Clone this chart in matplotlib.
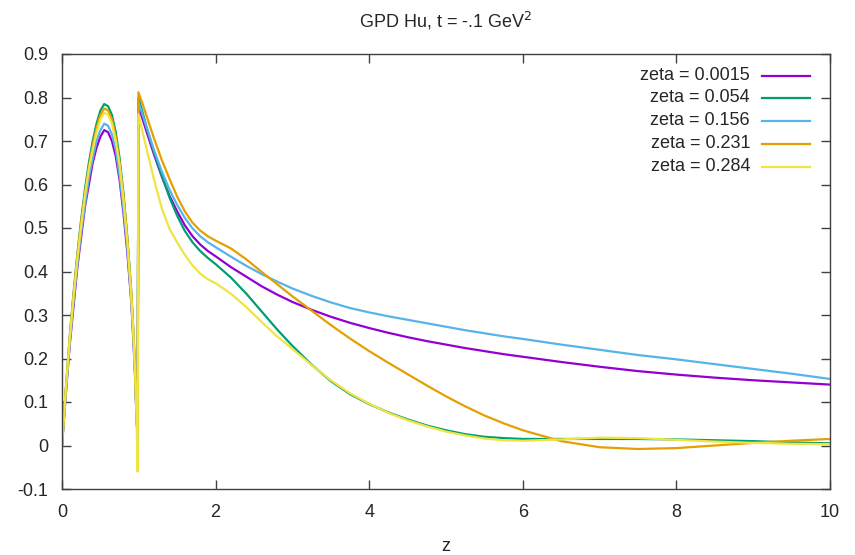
import matplotlib
matplotlib.use("Agg")
import matplotlib.pyplot as plt

plt.rcParams['font.family'] = ['Liberation Sans', 'DejaVu Sans']

z = [0, 0.05, 0.1, 0.15, 0.2, 0.25, 0.3, 0.35, 0.4, 0.45, 0.5, 0.55, 0.6, 0.65, 0.7,
     0.75, 0.8, 0.85, 0.9, 0.93, 0.95, 0.97, 0.985, 0.995,
     1.05, 1.1, 1.2, 1.3, 1.4, 1.5, 1.6, 1.7, 1.8, 1.9, 2.0,
     2.2, 2.4, 2.6, 2.8, 3.0, 3.25, 3.5, 3.75, 4.0, 4.25, 4.5, 4.75, 5.0,
     5.25, 5.5, 5.75, 6.0, 6.5, 7.0, 7.5, 8.0, 8.5, 9.0, 9.5, 10.0]

hu_0015 = [0.0, 0.12, 0.23, 0.32, 0.41, 0.48, 0.55, 0.60, 0.65, 0.685, 0.71, 0.725, 0.72, 0.70, 0.665,
           0.61, 0.535, 0.445, 0.335, 0.24, 0.165, 0.065, 0.02, 0.78,
           0.75, 0.722, 0.668, 0.618, 0.574, 0.538, 0.506, 0.481, 0.462, 0.447, 0.435,
           0.41, 0.388, 0.366, 0.347, 0.33, 0.312, 0.296, 0.282, 0.27, 0.259, 0.249, 0.24, 0.232,
           0.224, 0.217, 0.21, 0.204, 0.192, 0.181, 0.171, 0.163, 0.156, 0.15, 0.145, 0.14]

hu_054 = [0.0, 0.13, 0.25, 0.35, 0.44, 0.52, 0.59, 0.65, 0.70, 0.74, 0.77, 0.785, 0.78, 0.76, 0.72,
          0.66, 0.58, 0.48, 0.36, 0.26, 0.18, 0.07, 0.01, 0.80,
          0.765, 0.733, 0.674, 0.62, 0.57, 0.528, 0.493, 0.467, 0.447, 0.431, 0.417,
          0.386, 0.349, 0.308, 0.267, 0.229, 0.186, 0.148, 0.118, 0.095, 0.076, 0.06, 0.046, 0.035,
          0.026, 0.02, 0.017, 0.015, 0.015, 0.015, 0.015, 0.014, 0.012, 0.01, 0.007, 0.005]

hu_156 = [0.0, 0.12, 0.235, 0.33, 0.415, 0.49, 0.555, 0.615, 0.66, 0.70, 0.725, 0.74, 0.735, 0.715, 0.68,
          0.62, 0.545, 0.455, 0.34, 0.245, 0.17, 0.065, 0.02, 0.79,
          0.76, 0.732, 0.678, 0.63, 0.588, 0.553, 0.523, 0.499, 0.481, 0.467, 0.456,
          0.434, 0.413, 0.394, 0.377, 0.361, 0.344, 0.329, 0.316, 0.306, 0.297, 0.289, 0.281, 0.273,
          0.265, 0.258, 0.251, 0.245, 0.232, 0.22, 0.208, 0.198, 0.187, 0.176, 0.165, 0.153]

hu_231 = [0.0, 0.13, 0.245, 0.345, 0.435, 0.515, 0.58, 0.64, 0.69, 0.73, 0.76, 0.775, 0.77, 0.75, 0.71,
          0.65, 0.575, 0.475, 0.355, 0.26, 0.18, 0.07, 0.04, 0.812,
          0.785, 0.758, 0.705, 0.656, 0.613, 0.572, 0.538, 0.512, 0.494, 0.481, 0.471,
          0.453, 0.428, 0.399, 0.371, 0.343, 0.31, 0.277, 0.246, 0.217, 0.19, 0.164, 0.138, 0.113,
          0.09, 0.069, 0.051, 0.035, 0.01, -0.004, -0.008, -0.006, 0.0, 0.006, 0.011, 0.015]

hu_284 = [0.0, 0.13, 0.245, 0.34, 0.43, 0.505, 0.575, 0.635, 0.68, 0.72, 0.75, 0.765, 0.76, 0.74, 0.70,
          0.645, 0.565, 0.47, 0.35, 0.255, 0.175, 0.07, -0.06, 0.762,
          0.72, 0.683, 0.61, 0.545, 0.498, 0.467, 0.438, 0.414, 0.395, 0.382, 0.373,
          0.349, 0.318, 0.284, 0.251, 0.222, 0.185, 0.15, 0.12, 0.096, 0.075, 0.058, 0.044, 0.032,
          0.023, 0.016, 0.012, 0.011, 0.014, 0.018, 0.017, 0.013, 0.009, 0.006, 0.004, 0.003]

labels = ["zeta = 0.0015", "zeta = 0.054", "zeta = 0.156", "zeta = 0.231", "zeta = 0.284"]
colors = ["#9400d3", "#009e73", "#56b4e9", "#e69f00", "#f0e442"]
series = [hu_0015, hu_054, hu_156, hu_231, hu_284]

xticks = [0, 2, 4, 6, 8, 10]
yticks = [-0.1, 0, 0.1, 0.2, 0.3, 0.4, 0.5, 0.6, 0.7, 0.8, 0.9]
yticklabels = ["-0.1", "0", "0.1", "0.2", "0.3", "0.4", "0.5", "0.6", "0.7", "0.8", "0.9"]

FS = 13
TXT = '#262626'

fig = plt.figure(figsize=(8.55, 5.55), dpi=100)
ax = fig.add_axes([62/855, 1-489/555, (830-62)/855, (489-54)/555])

for vals, c in zip(series, colors):
    ax.plot(z, vals, color=c, lw=1.6, solid_joinstyle='round')

ax.set_xlim(0, 10)
ax.set_ylim(-0.1, 0.9)
ax.set_xticks(xticks)
ax.set_xticklabels([str(t) for t in xticks])
ax.set_yticks(yticks)
ax.set_yticklabels(yticklabels)
ax.tick_params(direction='in', length=6.5, width=1, top=True, right=True,
               labelsize=FS, colors='#404040', labelcolor=TXT)
ax.tick_params(axis='x', pad=11)
ax.tick_params(axis='y', pad=10)
for s in ax.spines.values():
    s.set_color('#404040')
    s.set_linewidth(1)

fig.text(446/855, 1-551/555, "z", ha='center', va='baseline', fontsize=FS, color=TXT)
fig.text(446/855, 1-27/555, "GPD Hu, t = -.1 GeV$^2$", ha='center', va='baseline',
         fontsize=FS, color=TXT)

# key (gnuplot style: right-aligned text, then line sample)
key_y = [75.5, 97.5, 120.5, 143.5, 166.5]
for lab, c, py in zip(labels, colors, key_y):
    yy = (489 - py) / (489 - 54)
    ax.text((750 - 62) / 768, yy, lab, transform=ax.transAxes, ha='right', va='center',
            fontsize=FS, color=TXT)
    ax.plot([(762 - 62) / 768, (810 - 62) / 768], [yy, yy], transform=ax.transAxes,
            color=c, lw=1.6, clip_on=False)

fig.savefig("out.png", dpi=100)
